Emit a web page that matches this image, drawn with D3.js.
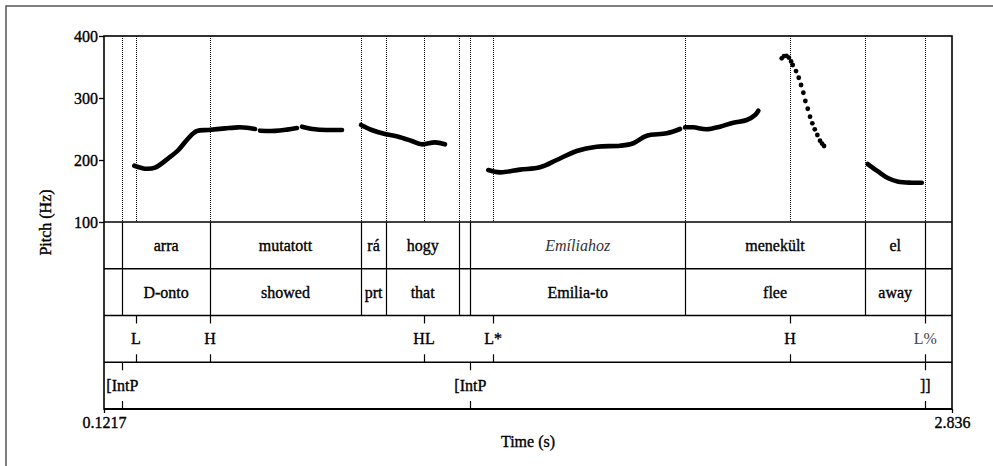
<!DOCTYPE html>
<html>
<head>
<meta charset="utf-8">
<script src="https://cdn.jsdelivr.net/npm/d3@7/dist/d3.min.js"></script>
<style>
  html, body { margin: 0; padding: 0; background: #fff; }
  svg { display: block; }
  text { font-family: "Liberation Serif", "Times New Roman", serif; font-size: 16px; fill: #000; stroke: #000; stroke-width: 0.35px; }
</style>
</head>
<body>
<svg id="chart" width="993" height="466"></svg>
<script>
// ---------- DATA ----------
const timeDomain = [0.1217, 2.836];
const timeTickLabels = ["0.1217", "2.836"];
const pitchDomain = [100, 400];
const pitchTicks = [100, 200, 300, 400];

// interval tier boundaries (s)
const wordBounds = [0.1803, 0.4610, 0.9444, 1.0244, 1.2590, 1.2942, 1.9815, 2.5577, 2.7507];
const wordLabels = ["", "arra", "mutatott", "rá", "hogy", "", "Emíliahoz", "menekült", "el", ""];
const glossLabels = ["", "D-onto", "showed", "prt", "that", "", "Emilia-to", "flee", "away", ""];

// point tiers
const toneTimes = [0.2241, 0.4610, 1.1460, 1.3669, 2.3176, 2.7507];
const toneLabels = ["L", "H", "HL", "L*", "H", "L%"];
const phraseTimes = [0.1803, 1.2942, 2.7507];
const phraseLabels = ["[IntP", "[IntP", "]]"];

// pitch track segments [time (s), F0 (Hz)]
const pitchSeg1 = [[0.2187,190.8],[0.2390,187.5],[0.2529,186.0],[0.2850,187.6],[0.3275,202.7],[0.3595,216],[0.3915,235],[0.4184,246.5],[0.4556,248.4],[0.5090,251],[0.5516,252.7],[0.5800,252],[0.6051,250]];
const pitchSeg2 = [[0.6211,247.3],[0.6691,247],[0.7075,249],[0.7395,251.5]];
const pitchSeg3 = [[0.7555,253.7],[0.7971,249.5],[0.8387,248.4],[0.8835,248.4]];
const pitchSeg4 = [[0.9444,256.5],[0.9786,248.4],[1.0212,241.9],[1.0638,237.6],[1.1067,230.6],[1.1387,225.3],[1.1812,228.5],[1.2132,225.3]];
const pitchSeg5 = [[1.3519,183.9],[1.3893,180.1],[1.4533,184.5],[1.5173,188.2],[1.5708,200],[1.6348,214.5],[1.6988,221.5],[1.7734,223],[1.8160,227],[1.8589,239.2],[1.9229,243],[1.9655,250]];
const pitchSeg6 = [[1.9815,252.7],[2.0081,252.7],[2.0510,249.5],[2.0935,253.7],[2.1361,260.2],[2.1790,264.5],[2.2056,272.6],[2.2162,279.5]];
const pitchDots = [[2.2910,364],[2.2980,367.5],[2.3060,368],[2.3140,365],[2.3210,359],[2.3262,353.2],[2.3368,343.5],[2.3455,332.7],[2.3528,321],[2.3602,308.5],[2.3666,295.2],[2.3743,282.7],[2.3816,269.8],[2.3890,259.2],[2.3967,249.5],[2.4050,240.3],[2.4136,231.1],[2.4200,226.5],[2.4264,222.6]];
const pitchSeg7 = [[2.5663,193.5],[2.6003,181.1],[2.6323,170.5],[2.6643,165],[2.7072,163.4],[2.7392,163.4]];

// ---------- LAYOUT ----------
(function draw() {
const svg = d3.select("#chart");
const pL = 104, pR = 952, pT = 36, pitchBottom = 222, tierH = 46.75, nTiers = 4;
const pB = pitchBottom + tierH * nTiers;

const x = d3.scaleLinear().domain(timeDomain).range([pL, pR]);
const y = d3.scaleLinear().domain(pitchDomain).range([pitchBottom, pT]);
const xs = d => Math.round(x(d)) + 0.5; // crisp vertical lines

// outer frame
svg.append("rect").attr("x", 6).attr("y", 6).attr("width", 1000).attr("height", 500)
  .attr("fill", "none").attr("stroke", "#555").attr("stroke-width", 1.5);

// dotted boundary lines in pitch area
const allTimes = Array.from(new Set([...wordBounds, ...toneTimes, ...phraseTimes]));
svg.append("g").selectAll("line").data(allTimes).join("line")
  .attr("x1", xs).attr("x2", xs)
  .attr("y1", pT).attr("y2", pitchBottom)
  .attr("stroke", "#000").attr("stroke-width", 1).attr("stroke-dasharray", "1,1");

// tier horizontal lines
for (let i = 0; i < nTiers; i++) {
  svg.append("line").attr("x1", pL).attr("x2", pR)
    .attr("y1", pitchBottom + tierH * i).attr("y2", pitchBottom + tierH * i)
    .attr("stroke", "#000").attr("stroke-width", 1.3);
}

// interval tier boundaries (tiers 1-2)
svg.append("g").selectAll("line").data(wordBounds).join("line")
  .attr("x1", xs).attr("x2", xs)
  .attr("y1", pitchBottom).attr("y2", pitchBottom + 2 * tierH)
  .attr("stroke", "#000").attr("stroke-width", 1.2);

// interval labels
const intervals = [timeDomain[0], ...wordBounds, timeDomain[1]];
const mids = d3.range(intervals.length - 1).map(i => (intervals[i] + intervals[i + 1]) / 2);
svg.append("g").selectAll("text").data(wordLabels).join("text")
  .attr("x", (d, i) => x(mids[i])).attr("y", pitchBottom + tierH * 0.5 + 5.5)
  .attr("text-anchor", "middle")
  .style("font-style", d => d === "Emíliahoz" ? "italic" : "normal")
  .style("fill", d => d === "Emíliahoz" ? "#333" : "#000")
  .style("stroke", d => d === "Emíliahoz" ? "none" : "#000")
  .text(d => d);
svg.append("g").selectAll("text").data(glossLabels).join("text")
  .attr("x", (d, i) => x(mids[i])).attr("y", pitchBottom + tierH * 1.5 + 5.5)
  .attr("text-anchor", "middle").text(d => d);

// point tiers
function pointTier(times, labels, idx) {
  const t0 = pitchBottom + tierH * idx, t1 = t0 + tierH;
  const g = svg.append("g");
  g.selectAll("line.a").data(times).join("line").attr("class", "a")
    .attr("x1", xs).attr("x2", xs).attr("y1", t0).attr("y2", t0 + 8)
    .attr("stroke", "#000").attr("stroke-width", 1.2);
  g.selectAll("line.b").data(times).join("line").attr("class", "b")
    .attr("x1", xs).attr("x2", xs).attr("y1", t1 - 8).attr("y2", t1)
    .attr("stroke", "#000").attr("stroke-width", 1.2);
  g.selectAll("text").data(labels).join("text")
    .attr("x", (d, i) => x(times[i])).attr("y", t0 + tierH / 2 + 5.5)
    .attr("text-anchor", "middle")
    .style("fill", d => d === "L%" ? "#444" : "#000")
    .style("stroke", d => d === "L%" ? "none" : "#000")
    .text(d => d);
}
pointTier(toneTimes, toneLabels, 2);
pointTier(phraseTimes, phraseLabels, 3);

// pitch curves
const line = d3.line().x(d => x(d[0])).y(d => y(d[1])).curve(d3.curveCatmullRom.alpha(0.5));
[pitchSeg1, pitchSeg2, pitchSeg3, pitchSeg4, pitchSeg5, pitchSeg6, pitchSeg7].forEach(seg => {
  svg.append("path").attr("d", line(seg)).attr("fill", "none")
    .attr("stroke", "#000").attr("stroke-width", 4.6)
    .attr("stroke-linecap", "round").attr("stroke-linejoin", "round");
});
svg.append("g").selectAll("circle").data(pitchDots).join("circle")
  .attr("cx", d => x(d[0])).attr("cy", d => y(d[1])).attr("r", 2.4).attr("fill", "#000");

// box
svg.append("rect").attr("x", pL).attr("y", pT).attr("width", pR - pL).attr("height", pB - pT)
  .attr("fill", "none").attr("stroke", "#000").attr("stroke-width", 1.6);
svg.append("line").attr("x1", pL).attr("x2", pR).attr("y1", pB).attr("y2", pB)
  .attr("stroke", "#000").attr("stroke-width", 2.2);

// y axis (pitch)
const yAxis = d3.axisLeft(y).tickValues(pitchTicks).tickSize(5).tickPadding(1).tickFormat(d3.format("d"));
const gy = svg.append("g").attr("transform", `translate(${pL},0)`).call(yAxis);
gy.select(".domain").remove();
gy.selectAll("line").attr("stroke", "#000").attr("stroke-width", 1.3);
gy.selectAll("text").style("font-family", "'Liberation Serif', serif").style("font-size", "16px")
  .attr("fill", "#000").style("stroke", "#000").style("stroke-width", "0.35px");

// x axis (time)
const xAxis = d3.axisBottom(x).tickValues(timeDomain).tickSize(4).tickPadding(4)
  .tickFormat((d, i) => timeTickLabels[i]);
const gx = svg.append("g").attr("transform", `translate(0,${pB})`).call(xAxis);
gx.select(".domain").remove();
gx.selectAll("line").attr("stroke", "#000").attr("stroke-width", 1.3);
gx.selectAll("text").style("font-family", "'Liberation Serif', serif").style("font-size", "16px")
  .attr("fill", "#000").style("stroke", "#000").style("stroke-width", "0.35px");

// axis titles
svg.append("text").attr("x", (pL + pR) / 2).attr("y", 447).attr("text-anchor", "middle").text("Time (s)");
svg.append("text").attr("transform", `translate(51,${(pT + pB) / 2}) rotate(-90)`)
  .attr("text-anchor", "middle").text("Pitch (Hz)");
})();
</script>
</body>
</html>
